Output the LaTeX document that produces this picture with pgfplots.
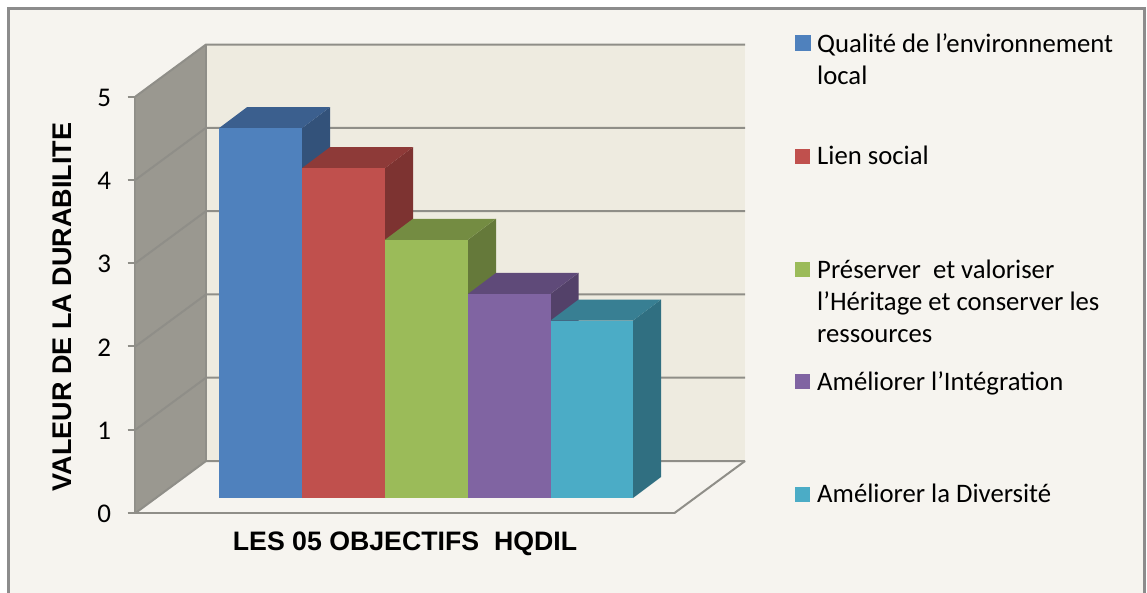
\documentclass[border=0pt]{standalone}
\usepackage{pgfplots}
\pgfplotsset{compat=1.18}
\usepackage{fontspec}
\setmainfont{Carlito}
\newfontfamily\arialb[BoldFont={Liberation Sans Bold}]{Liberation Sans}
\definecolor{bg}{HTML}{F6F4EF}
\definecolor{backw}{HTML}{EEEBE0}
\definecolor{sidew}{HTML}{9A9890}
\definecolor{gridc}{HTML}{8F8E88}
\definecolor{frame}{HTML}{8C8C8C}
\definecolor{bluef}{HTML}{4F81BD}\definecolor{bluet}{HTML}{3B5F8E}\definecolor{blues}{HTML}{33527A}
\definecolor{redf}{HTML}{C0504D}\definecolor{redt}{HTML}{8E3A38}\definecolor{reds}{HTML}{7D3331}
\definecolor{greenf}{HTML}{9BBB59}\definecolor{greent}{HTML}{748C42}\definecolor{greens}{HTML}{65793A}
\definecolor{purpf}{HTML}{8064A2}\definecolor{purpt}{HTML}{5F4A79}\definecolor{purps}{HTML}{534169}
\definecolor{tealf}{HTML}{4BACC6}\definecolor{tealt}{HTML}{387F93}\definecolor{teals}{HTML}{306F81}
\begin{document}
\begin{tikzpicture}[x=1pt,y=1pt]
\useasboundingbox (0,0) rectangle (1147,592);
\fill[white] (0,0) rectangle (1147,592);
\fill[bg] (8.5,-3) rectangle (1144,583.5);
\draw[frame,line width=3pt] (8.5,-3) -- (8.5,583.5) -- (1144,583.5) -- (1144,-3);
\begin{axis}[
  at={(135.5pt,79pt)}, anchor=south west, scale only axis,
  width=539pt, height=416.5pt,
  xmin=135.5, xmax=674.5, ymin=0, ymax=5,
  clip=false,
  axis lines=left,
  axis line style={-, gridc, line width=2.2pt},
  xtick=\empty,
  ytick={0,1,2,3,4,5},
  tick style={gridc, line width=2pt},
  tick pos=left,
  major tick length=8pt,
  tick align=outside,
  /pgf/number format/assume math mode=true,
  yticklabel style={font=\fontsize{27}{29}\selectfont, text=black, xshift=-13pt, yshift=-1pt},
  xlabel={\arialb\bfseries LES 05 OBJECTIFS\ \ HQDIL},
  xlabel style={at={(0.5,-0.0745)},anchor=center,font=\fontsize{26.7}{29}\selectfont},
  ylabel={\arialb\bfseries VALEUR DE LA DURABILITE},
  ylabel style={at={(-0.1364,0.4946)},anchor=center,font=\fontsize{27}{29}\selectfont},
]
% walls
\addplot[fill=backw,draw=none] coordinates {(206,0.624)(745,0.624)(745,5.624)(206,5.624)} --cycle;
\addplot[fill=sidew,draw=none] coordinates {(135.5,0)(206,0.624)(206,5.624)(135.5,5)} --cycle;
% floor edges
\addplot[gridc,line width=2pt] coordinates {(674.5,0)(745,0.624)};
% back gridlines and side gridlines
\addplot[gridc,line width=2pt] coordinates {(135.5,0)(206,0.624)(745,0.624)};
\addplot[gridc,line width=2pt] coordinates {(135.5,1)(206,1.624)(745,1.624)};
\addplot[gridc,line width=2pt] coordinates {(135.5,2)(206,2.624)(745,2.624)};
\addplot[gridc,line width=2pt] coordinates {(135.5,3)(206,3.624)(745,3.624)};
\addplot[gridc,line width=2pt] coordinates {(135.5,4)(206,4.624)(745,4.624)};
\addplot[gridc,line width=2pt] coordinates {(135.5,5)(206,5.624)(745,5.624)};
\addplot[gridc,line width=2pt] coordinates {(206,0.624)(206,5.624)};
% bars: value on the front face, shifted up to the bar's depth in the 3D box
\addplot[fill=blues,draw=none,yshift=15pt] coordinates {(302,0)(330,0.252)(330,4.692)(302,4.44)} --cycle;
\addplot[fill=bluet,draw=none,yshift=15pt] coordinates {(219,4.44)(247,4.692)(330,4.692)(302,4.44)} --cycle;
\addplot[fill=bluef,draw=none,yshift=15pt] coordinates {(219,0)(302,0)(302,4.44)(219,4.44)} --cycle;
\addplot[fill=reds,draw=none,yshift=15pt] coordinates {(385,0)(413,0.252)(413,4.212)(385,3.96)} --cycle;
\addplot[fill=redt,draw=none,yshift=15pt] coordinates {(302,3.96)(330,4.212)(413,4.212)(385,3.96)} --cycle;
\addplot[fill=redf,draw=none,yshift=15pt] coordinates {(302,0)(385,0)(385,3.96)(302,3.96)} --cycle;
\addplot[fill=greens,draw=none,yshift=15pt] coordinates {(468,0)(496,0.252)(496,3.352)(468,3.10)} --cycle;
\addplot[fill=greent,draw=none,yshift=15pt] coordinates {(385,3.10)(413,3.352)(496,3.352)(468,3.10)} --cycle;
\addplot[fill=greenf,draw=none,yshift=15pt] coordinates {(385,0)(468,0)(468,3.10)(385,3.10)} --cycle;
\addplot[fill=purps,draw=none,yshift=15pt] coordinates {(550.5,0)(578.5,0.252)(578.5,2.702)(550.5,2.45)} --cycle;
\addplot[fill=purpt,draw=none,yshift=15pt] coordinates {(468,2.45)(496,2.702)(578.5,2.702)(550.5,2.45)} --cycle;
\addplot[fill=purpf,draw=none,yshift=15pt] coordinates {(468,0)(550.5,0)(550.5,2.45)(468,2.45)} --cycle;
\addplot[fill=teals,draw=none,yshift=15pt] coordinates {(633,0)(661,0.252)(661,2.382)(633,2.13)} --cycle;
\addplot[fill=tealt,draw=none,yshift=15pt] coordinates {(550.5,2.13)(578.5,2.382)(661,2.382)(633,2.13)} --cycle;
\addplot[fill=tealf,draw=none,yshift=15pt] coordinates {(550.5,0)(633,0)(633,2.13)(550.5,2.13)} --cycle;
\end{axis}
% legend
\fill[bluef] (794.5,541) rectangle (811,557);
\fill[redf] (795,428) rectangle (810,443);
\fill[greenf] (795,315) rectangle (810,330);
\fill[purpf] (795,203) rectangle (810,218);
\fill[tealf] (795,90) rectangle (810,105);
\tikzset{lg/.style={anchor=base west,inner sep=0pt,font=\fontsize{26.7}{29}\selectfont,text=black}}
\node[lg] at (817,539.5) {Qualité de l’environnement};
\node[lg] at (817,507.5) {local};
\node[lg] at (817,427.5) {Lien social};
\node[lg] at (817,313.5) {Préserver\ \ et valoriser};
\node[lg] at (817,281.5) {l’Héritage et conserver les};
\node[lg] at (817,249.5) {ressources};
\node[lg] at (817,201.5) {Améliorer l’Intégration};
\node[lg] at (817,89.5) {Améliorer la Diversité};
\end{tikzpicture}
\end{document}
